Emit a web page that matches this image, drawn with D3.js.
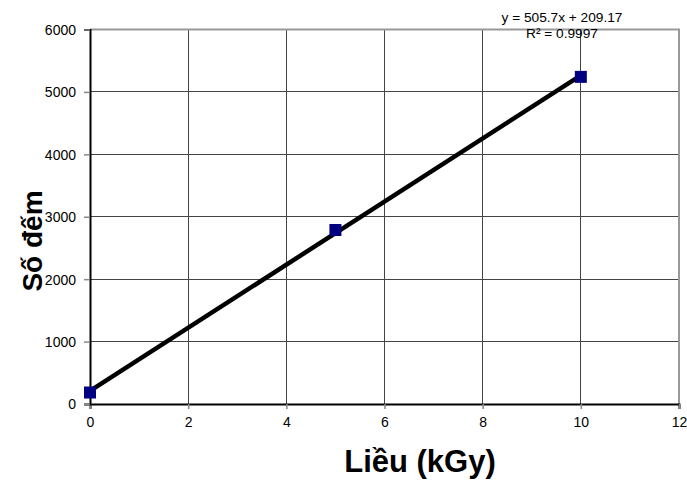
<!DOCTYPE html>
<html>
<head>
<meta charset="utf-8">
<script src="https://cdn.jsdelivr.net/npm/d3@7"></script>
<style>
  body { margin: 0; background: #fff; }
  text { font-family: Arial, "Liberation Sans", sans-serif; }
</style>
</head>
<body>
<script>
// dose (kGy) and counts
const doses = [0, 5, 10];
const counts = [184, 2788, 5241];
const xTicks = [0, 2, 4, 6, 8, 10, 12];
const yTicks = [0, 1000, 2000, 3000, 4000, 5000, 6000];
const slope = 505.7;
const intercept = 209.17;
const eqLabel = 'y = 505.7x + 209.17';
const r2Label = 'R² = 0.9997';

const width = 687;
const height = 480;
const margin = { top: 29.5, right: 8, bottom: 76, left: 90 };

const svg = d3.select('body')
    .append('svg')
    .attr('width', width)
    .attr('height', height);

const x = d3.scaleLinear().domain([0, 12]).range([margin.left, width - margin.right]);
const y = d3.scaleLinear().domain([0, 6000]).range([height - margin.bottom, margin.top]);

// grid
svg.append('g')
    .selectAll('line')
    .data(xTicks.slice(1, -1))
    .join('line')
    .attr('x1', d => x(d)).attr('x2', d => x(d))
    .attr('y1', y(0)).attr('y2', y(6000))
    .attr('stroke', '#444').attr('stroke-width', 1).attr('shape-rendering', 'crispEdges');

svg.append('g')
    .selectAll('line')
    .data(yTicks.slice(1, -1))
    .join('line')
    .attr('x1', x(0)).attr('x2', x(12))
    .attr('y1', d => y(d)).attr('y2', d => y(d))
    .attr('stroke', '#444').attr('stroke-width', 1).attr('shape-rendering', 'crispEdges');

// top and right frame (grey)
svg.append('path')
    .attr('d', `M${x(0)},${y(6000)}H${x(12)}V${y(0)}`)
    .attr('fill', 'none')
    .attr('stroke', '#999')
    .attr('stroke-width', 2);

// axes
const xAxis = svg.append('g')
    .attr('transform', `translate(0,${y(0)})`)
    .call(d3.axisBottom(x).tickValues(xTicks).tickFormat(d3.format('d')).tickSize(5).tickPadding(8));
const yAxis = svg.append('g')
    .attr('transform', `translate(${x(0)},0)`)
    .call(d3.axisLeft(y).tickValues(yTicks).tickFormat(d3.format('d')).tickSize(6).tickPadding(8));

[xAxis, yAxis].forEach(a => {
    a.select('.domain').attr('stroke', '#000').attr('stroke-width', 2);
    a.selectAll('.tick line').attr('stroke', '#888').attr('stroke-width', 1.5);
    a.selectAll('.tick text')
        .attr('font-size', 14)
        .attr('fill', '#000')
        .attr('font-family', 'Arial, "Liberation Sans", sans-serif');
});
yAxis.selectAll('.tick text').attr('dy', '0.35em');

// trendline
const ext = d3.extent(doses);
svg.append('line')
    .attr('x1', x(ext[0])).attr('y1', y(slope * ext[0] + intercept))
    .attr('x2', x(ext[1])).attr('y2', y(slope * ext[1] + intercept))
    .attr('stroke', '#000')
    .attr('stroke-width', 4.5);

// points
svg.append('g')
    .selectAll('rect')
    .data(doses.map((d, i) => [d, counts[i]]))
    .join('rect')
    .attr('x', d => x(d[0]) - 6)
    .attr('y', d => y(d[1]) - 6)
    .attr('width', 12)
    .attr('height', 12)
    .attr('fill', '#000080');

// equation
svg.append('text')
    .attr('x', 562).attr('y', 22)
    .attr('text-anchor', 'middle')
    .attr('font-size', 13.7)
    .text(eqLabel);
svg.append('text')
    .attr('x', 562).attr('y', 38)
    .attr('text-anchor', 'middle')
    .attr('font-size', 13.7)
    .text(r2Label);

// axis titles
svg.append('text')
    .attr('x', 420).attr('y', 472)
    .attr('text-anchor', 'middle')
    .attr('font-size', 31)
    .attr('font-weight', 'bold')
    .text('Liều (kGy)');

svg.append('text')
    .attr('transform', 'translate(42,241) rotate(-90)')
    .attr('text-anchor', 'middle')
    .attr('font-size', 28)
    .attr('font-weight', 'bold')
    .text('Số đếm');
</script>
</body>
</html>
